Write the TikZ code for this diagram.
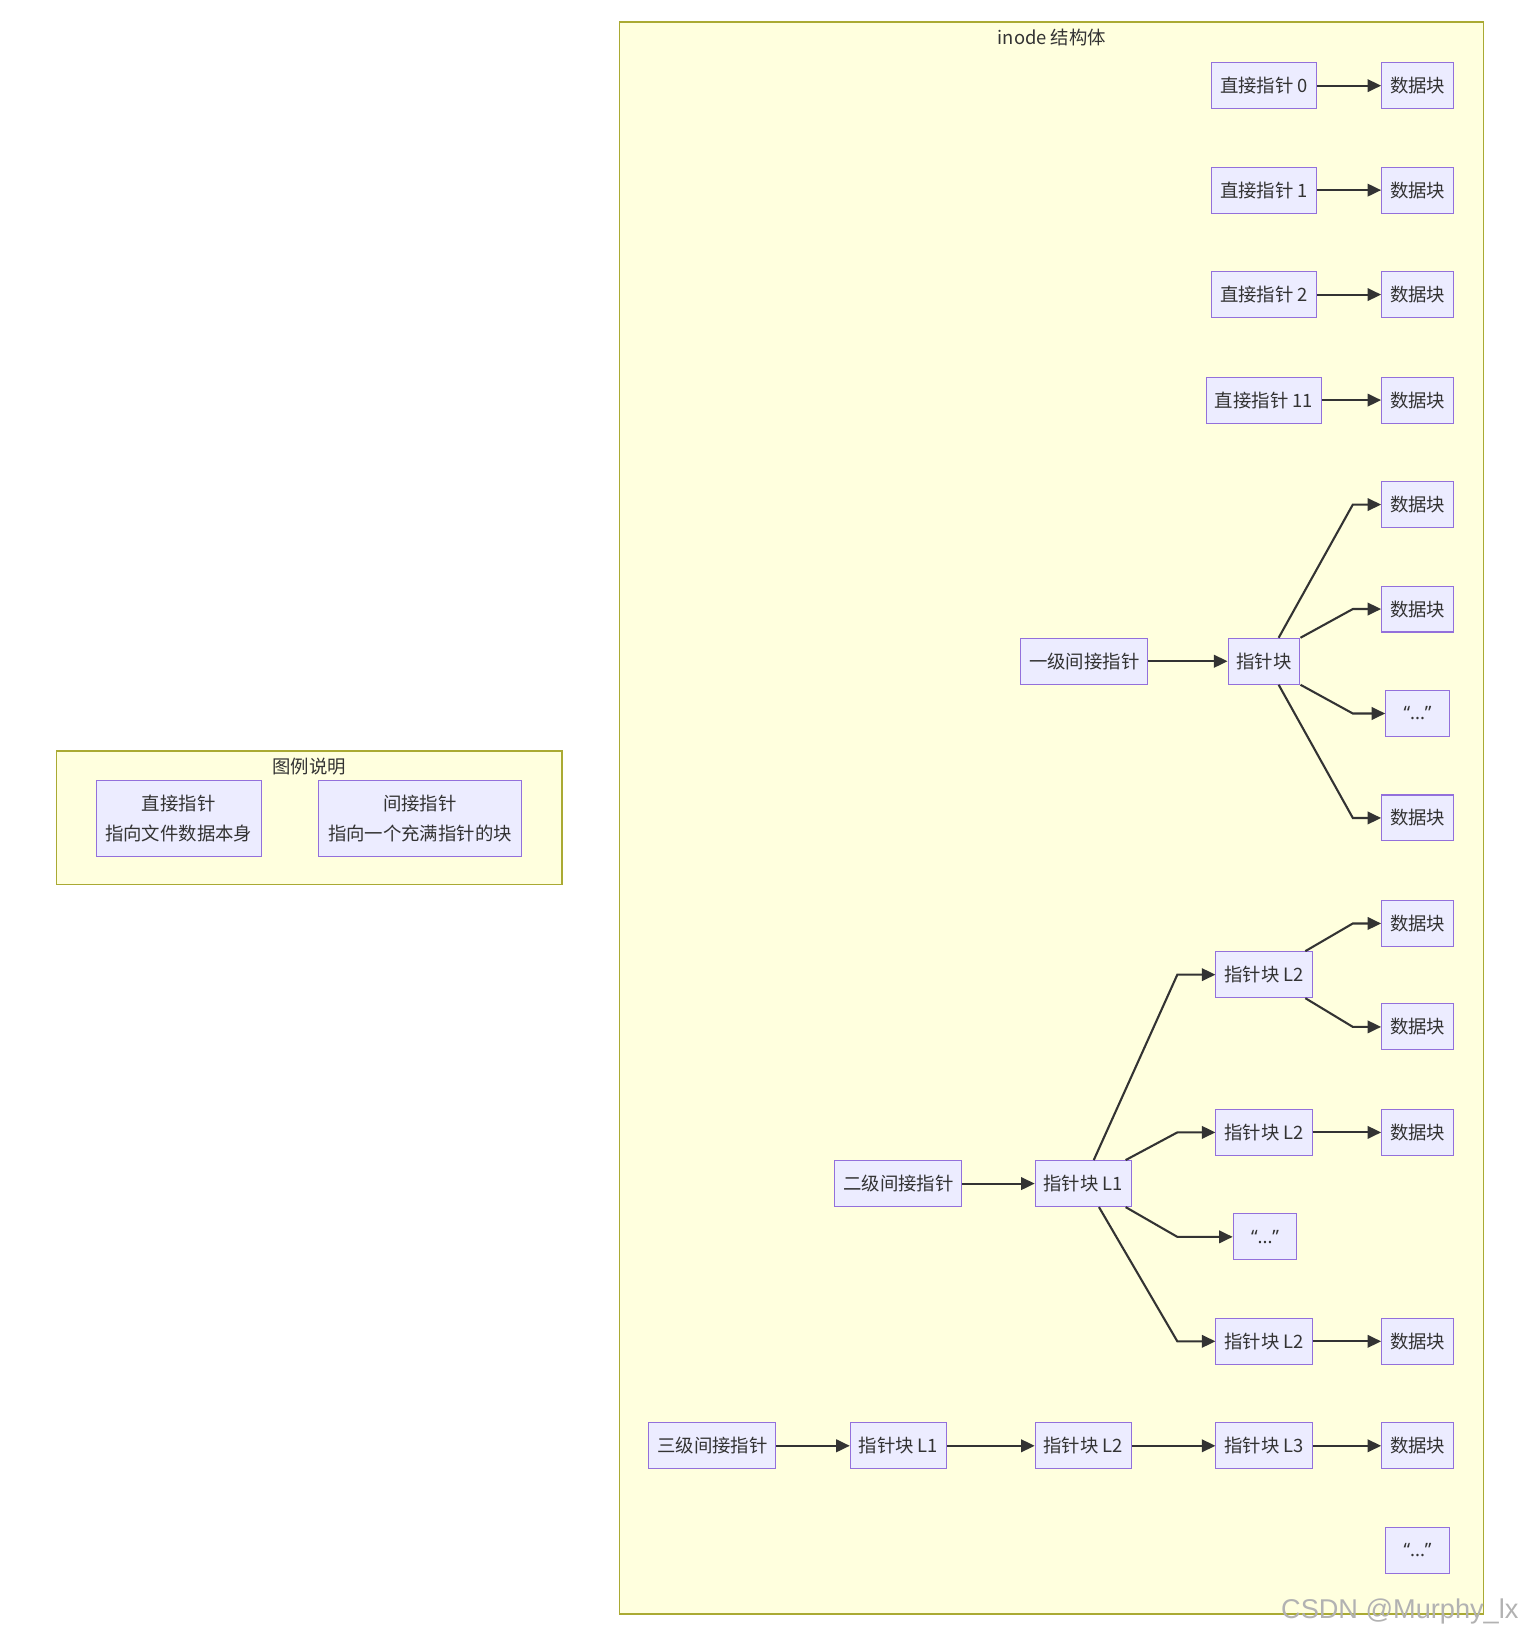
\documentclass[tikz,border=0pt]{standalone}
\usepackage{fontspec}
\setmainfont{Noto Sans CJK SC}
\newfontfamily\latinfont{Noto Sans}
\newfontfamily\wmfont{Liberation Sans}
\usetikzlibrary{arrows.meta,calc,positioning}
\definecolor{nodefill}{HTML}{ECECFF}
\definecolor{nodeline}{HTML}{9370DB}
\definecolor{grpfill}{HTML}{FFFFDE}
\definecolor{grpline}{HTML}{AAAA33}
\definecolor{ink}{HTML}{333333}

\begin{document}
\begin{tikzpicture}[x=0.5pt,y=-0.5pt,font=\fontsize{8.8}{14}\selectfont,
  >={Triangle[length=6.5pt,width=6pt]},
  blk/.style={draw=nodeline,fill=nodefill,text=ink,line width=.5pt,
    minimum height=22pt,inner xsep=4pt,inner ysep=0pt},
  dots/.style={blk,minimum width=30.5pt,font=\latinfont\fontsize{8.8}{14}\selectfont},
  grp/.style={draw=grpline,fill=grpfill,line width=.6pt},
  link/.style={->,draw=ink,line width=1pt}]
 \fill[white] (0,0) rectangle (1460,1568);
 \useasboundingbox (0,0) rectangle (1460,1568);
 \draw[grp] (593,21) rectangle (1420,1545);
 \node[text=ink] (t1) at (1007,36) {inode 结构体};
 \draw[grp] (54,719) rectangle (538,847);
 \node[text=ink] (t2) at (296,734) {图例说明};
 \node[blk,minimum width=79pt,minimum height=36.5pt,align=center] (lg1)
   at (171,783.5) {直接指针\\指向文件数据本身};
 \node[blk,minimum width=97pt,minimum height=36.5pt,align=center] (lg2)
   at (402,783.5) {间接指针\\指向一个充满指针的块};
 \foreach \i/\y/\t in {0/82/直接指针 0,1/182/直接指针 1,2/282/直接指针 2,3/383/直接指针 11}{
    \node[blk] (p\i) at (1210,\y) {\t};
    \node[blk] (d\i) at (1357,\y) {数据块};
    \draw[link] (p\i) -- (d\i);
 }
 \coordinate (sx) at (1295,0);
 \node[blk] (s0) at (1038,633) {一级间接指针};
 \node[blk] (s1) at (1210,633) {指针块};
 \node[blk] (sd1) at (1357,483) {数据块};
 \node[blk] (sd2) at (1357,583) {数据块};
 \node[dots] (sd3) at (1357,683) {“...”};
 \node[blk] (sd4) at (1357,783) {数据块};
 \draw[link] (s0) -- (s1);
 \draw[link] ([xshift=7pt]s1.north) -- (sx |- sd1) -- (sd1);
 \draw[link] (s1.north east) -- (sx |- sd2) -- (sd2);
 \draw[link] (s1.south east) -- (sx |- sd3) -- (sd3);
 \draw[link] ([xshift=7pt]s1.south) -- (sx |- sd4) -- (sd4);
 \coordinate (wx) at (1127,0);
 \node[blk] (w0) at (860,1133) {二级间接指针};
 \node[blk] (w1) at (1037,1133) {指针块 L1};
 \node[blk] (w2a) at (1210,933) {指针块 L2};
 \node[blk] (w2b) at (1210,1084) {指针块 L2};
 \node[dots] (w2c) at (1211,1184) {“...”};
 \node[blk] (w2d) at (1210,1284) {指针块 L2};
 \node[blk] (wd1) at (1357,884) {数据块};
 \node[blk] (wd2) at (1357,983) {数据块};
 \node[blk] (wd3) at (1357,1084) {数据块};
 \node[blk] (wd4) at (1357,1284) {数据块};
 \draw[link] (w0) -- (w1);
 \draw[link] ([xshift=5pt]w1.north) -- (wx |- w2a) -- (w2a);
 \draw[link] ([xshift=-3pt]w1.north east) -- (wx |- w2b) -- (w2b);
 \draw[link] ([xshift=-3pt]w1.south east) -- (wx |- w2c) -- (w2c);
 \draw[link] ([xshift=7.5pt]w1.south) -- (wx |- w2d) -- (w2d);
 \draw[link] ([xshift=-3.5pt]w2a.north east) -- (sx |- wd1) -- (wd1);
 \draw[link] ([xshift=-3.5pt]w2a.south east) -- (sx |- wd2) -- (wd2);
 \draw[link] (w2b) -- (wd3);
 \draw[link] (w2d) -- (wd4);
 \node[blk] (r0) at (682,1384) {三级间接指针};
 \node[blk] (r1) at (860,1384) {指针块 L1};
 \node[blk] (r2) at (1037,1384) {指针块 L2};
 \node[blk] (r3) at (1210,1384) {指针块 L3};
 \node[blk] (rd) at (1357,1384) {数据块};
 \foreach \a/\b in {r0/r1,r1/r2,r2/r3,r3/rd}
    \draw[link] (\a) -- (\b);
 \node[dots] (more) at (1357,1484) {“...”};
 \node[font=\wmfont\fontsize{13}{13}\selectfont,text=black!30] (wm)
   at (1340,1543) {CSDN @Murphy\_lx};
\end{tikzpicture}
\end{document}
